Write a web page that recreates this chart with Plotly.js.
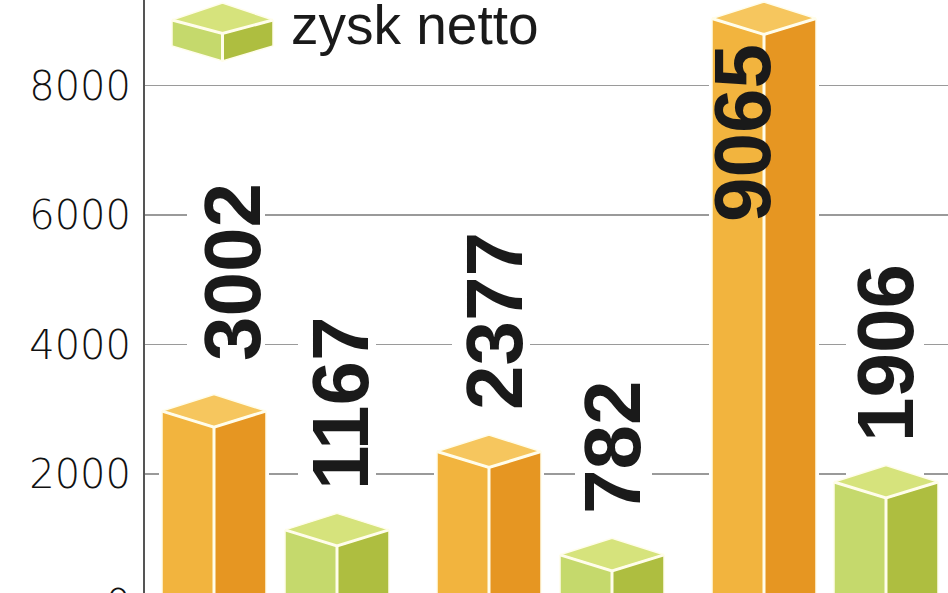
<!DOCTYPE html>
<html>
<head>
<meta charset="utf-8">
<script src="https://cdn.plot.ly/plotly-3.0.1.min.js"></script>
<style>
html,body{margin:0;padding:0;background:#fff;overflow:hidden;width:948px;height:593px}
#chart{width:948px;height:640px}
</style>
</head>
<body>
<div id="chart"></div>
<script>
// data
const seriesKinds = ['orange','green','orange','green','orange','green'];
const barValues = [3002, 1167, 2377, 782, 9065, 1906];
const barLabels = ['3002','1167','2377','782','9065','1906'];
const yTicks = [0, 2000, 4000, 6000, 8000];
const yTickLabels = ['0','2000','4000','6000','8000'];
const legendText = 'zysk netto';

// layout constants (pixels)
const barCentres = [214, 337, 489, 612, 764, 886];
const labelCentreX = [232, 340, 494, 612, 742, 885];
const labelCentreY = [272, 403, 321, 448, 133, 353];
const labelGapX = [[187,265],[298,376],[452,530],[575,652],null,[846,924]];
const labelGapTop = [183,314,233,382,0,265];
const K = 0.06475, Y0PX = 603.5, H = 640, HW = 52, DROP = 16, RISE = 16.5, TOPFIX = 30, HALO = 3;
const toV = p => (Y0PX - p) / K;
const toP = v => Y0PX - v * K;

const palette = {
  orange: {l:'#F2B43E', r:'#E69622', t:'#F6C65E'},
  green:  {l:'#C5D96C', r:'#AEBE40', t:'#D6E37C'}
};
const edge = '#FFFDEB';

function poly(store, pts){ pts.forEach(p=>{store.x.push(p[0]);store.y.push(p[1]);}); store.x.push(null);store.y.push(null); }
function box(st, xc, hw, cy, drop, rise, by, bdrop){
  const p=(x,y)=>[x,toV(y)];
  poly(st.l,[p(xc-hw,cy),p(xc,cy+drop),p(xc,by+bdrop),p(xc-hw,by),p(xc-hw,cy)]);
  poly(st.r,[p(xc+hw,cy),p(xc,cy+drop),p(xc,by+bdrop),p(xc+hw,by),p(xc+hw,cy)]);
  poly(st.t,[p(xc-hw,cy),p(xc,cy-rise),p(xc+hw,cy),p(xc,cy+drop),p(xc-hw,cy)]);
  poly(st.e,[p(xc-hw,cy),p(xc,cy+drop),p(xc+hw,cy)]);
  poly(st.e,[p(xc,cy+drop),p(xc,by+bdrop)]);
}
const mk=()=>({l:{x:[],y:[]},r:{x:[],y:[]},t:{x:[],y:[]},e:{x:[],y:[]}});
const stores={orange:mk(),green:mk()};
const blank={x:[],y:[]};
barValues.forEach((v,i)=>{
  const cy=toP(v-TOPFIX), xc=barCentres[i];
  box(stores[seriesKinds[i]], xc, HW, cy, DROP, RISE, Y0PX+40, DROP);
  // white halo round the bar
  poly(blank,[[xc-HW-HALO,toV(cy-1)],[xc,toV(cy-RISE-HALO)],[xc+HW+HALO,toV(cy-1)],[xc+HW+HALO,toV(Y0PX+40)],[xc-HW-HALO,toV(Y0PX+40)]]);
  // white gap behind the value label
  if(labelGapX[i]){
    const g=labelGapX[i];
    poly(blank,[[g[0],toV(labelGapTop[i])],[g[1],toV(labelGapTop[i])],[g[1],toV(cy)],[g[0],toV(cy)]]);
  }
});
// legend key
box(stores.green, 222.5, 50.5, 20, 13.5, 17, 46, 15);

const traces=[{type:'scatter',mode:'lines',x:blank.x,y:blank.y,fill:'toself',fillcolor:'#fff',
  line:{color:'#fff',width:0},hoverinfo:'skip',showlegend:false}];
['orange','green'].forEach(k=>{
  const s=stores[k],c=palette[k];
  [['l',c.l],['r',c.r],['t',c.t]].forEach(([f,col])=>{
    traces.push({type:'scatter',mode:'lines',x:s[f].x,y:s[f].y,fill:'toself',fillcolor:col,
      line:{color:edge,width:1.5},hoverinfo:'skip',showlegend:false});
  });
  traces.push({type:'scatter',mode:'lines',x:s.e.x,y:s.e.y,line:{color:edge,width:3},hoverinfo:'skip',showlegend:false});
});

const annotations = barLabels.map((t,i)=>({
  text:t, xref:'x', yref:'y', x:labelCentreX[i], y:toV(labelCentreY[i]), textangle:-90, showarrow:false,
  xanchor:'center', yanchor:'middle',
  font:{family:'"Liberation Sans", Arial, sans-serif',size:80,weight:700,color:'#1a1a1a'},
  borderpad:0
}));
annotations.push({
  text:legendText, xref:'x', yref:'y', x:289, y:toV(25), showarrow:false, xanchor:'left', yanchor:'middle',
  font:{family:'"Liberation Sans", sans-serif',size:55,color:'#1a1a1a'}
});

const layout={
  width:948,height:H,margin:{l:145,r:0,t:0,b:0},paper_bgcolor:'#fff',plot_bgcolor:'#fff',
  showlegend:false,
  xaxis:{range:[145,948],visible:false,fixedrange:true},
  yaxis:{range:[toV(H),toV(0)],tickmode:'array',tickvals:yTicks,ticktext:yTickLabels,
    showgrid:true,gridcolor:'#9a9a9a',gridwidth:1.5,zeroline:false,showline:true,linecolor:'#555',linewidth:2,
    ticks:'',ticklabelstandoff:4,
    tickfont:{family:'"DejaVu Sans", sans-serif',size:40,weight:200,color:'#111'},fixedrange:true},
  annotations
};
Plotly.newPlot('chart',traces,layout,{displayModeBar:false,staticPlot:true});
</script>
</body>
</html>
